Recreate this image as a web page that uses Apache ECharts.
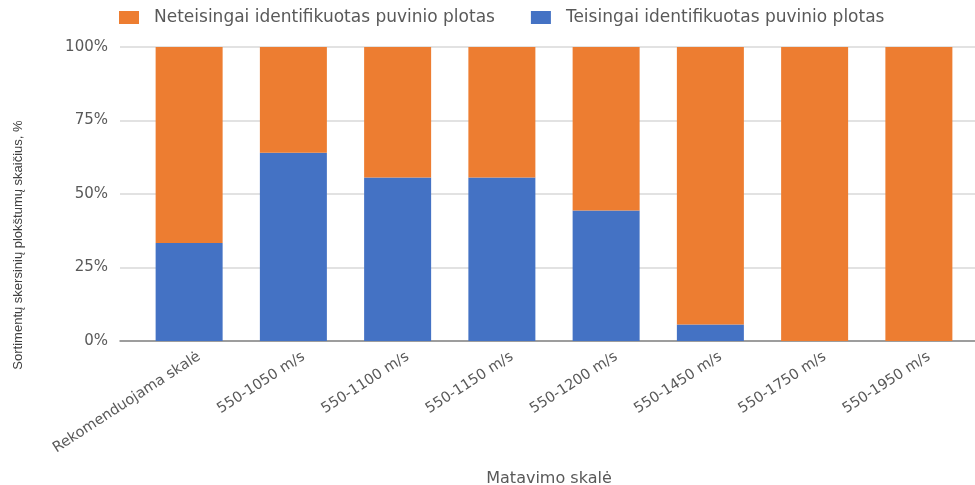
<!DOCTYPE html>
<html>
<head>
<meta charset="utf-8">
<script src="https://cdn.jsdelivr.net/npm/echarts@6/dist/echarts.min.js"></script>
<style>
  html, body { margin: 0; padding: 0; background: #fff; }
  #chart { width: 975px; height: 485px; }
</style>
</head>
<body>
<div id="chart"></div>
<script>
// Measurement scales
const categories = [
  'Rekomenduojama skalė',
  '550-1050 m/s',
  '550-1100 m/s',
  '550-1150 m/s',
  '550-1200 m/s',
  '550-1450 m/s',
  '550-1750 m/s',
  '550-1950 m/s'
];

// Share of cross-section planes, %
const correctShare = [33.3, 64.0, 55.6, 55.6, 44.4, 5.6, 0, 0];
const incorrectShare = [66.7, 36.0, 44.4, 44.4, 55.6, 94.4, 100, 100];

const yTicks = [0, 25, 50, 75, 100];

const nameCorrect = 'Teisingai identifikuotas puvinio plotas';
const nameIncorrect = 'Neteisingai identifikuotas puvinio plotas';

const textColor = '#595959';
const wideFont = "'DejaVu Sans', sans-serif";

const chart = echarts.init(document.getElementById('chart'), null, { renderer: 'canvas' });

chart.setOption({
  animation: false,
  backgroundColor: '#ffffff',
  color: ['#4472C4', '#ED7D31'],
  legend: {
    data: [
      { name: nameIncorrect, itemStyle: { color: '#ED7D31' } },
      { name: nameCorrect, itemStyle: { color: '#4472C4' } }
    ],
    top: 4,
    left: 114,
    icon: 'rect',
    itemWidth: 20,
    itemHeight: 13,
    itemGap: 36,
    textStyle: {
      fontFamily: wideFont,
      fontSize: 17,
      color: textColor,
      padding: [0, 0, 0, 10]
    }
  },
  grid: [
    // frame with value scale and gridlines
    { left: 120, right: 0, top: 47, bottom: 144, outerBoundsMode: 'none' },
    // bars
    { left: 137, right: 4, top: 47, bottom: 144, outerBoundsMode: 'none' }
  ],
  xAxis: [
    {
      gridIndex: 0,
      type: 'value',
      min: 0,
      max: 1,
      axisLabel: { show: false },
      axisTick: { show: false },
      splitLine: { show: false },
      axisLine: { show: true, lineStyle: { color: '#868686', width: 1.5 } }
    },
    {
      gridIndex: 1,
      type: 'category',
      data: categories,
      axisLine: { show: false },
      axisTick: { show: false },
      axisLabel: {
        rotate: 33,
        margin: 21,
        interval: 0,
        fontFamily: wideFont,
        fontSize: 14.5,
        color: textColor,
        padding: [0, -12, 0, 0]
      },
      name: 'Matavimo skalė',
      nameLocation: 'middle',
      nameGap: 130,
      nameTextStyle: {
        fontFamily: wideFont,
        fontSize: 16,
        color: textColor,
        padding: [0, 10, 0, 0]
      }
    }
  ],
  yAxis: [
    {
      gridIndex: 0,
      type: 'value',
      min: 0,
      max: 100,
      interval: 25,
      axisLine: { show: false },
      axisTick: { show: false },
      axisLabel: {
        margin: 12,
        fontFamily: wideFont,
        fontSize: 15,
        color: textColor,
        formatter: function (v) { return yTicks.indexOf(v) >= 0 ? v + '%' : ''; }
      },
      splitLine: { show: true, lineStyle: { color: '#d9d9d9', width: 1.5 } }
    },
    {
      gridIndex: 1,
      type: 'value',
      min: 0,
      max: 100,
      show: false
    }
  ],
  series: [
    {
      name: nameCorrect,
      type: 'bar',
      xAxisIndex: 1,
      yAxisIndex: 1,
      stack: 'share',
      barWidth: 67,
      itemStyle: { color: '#4472C4' },
      data: correctShare
    },
    {
      name: nameIncorrect,
      type: 'bar',
      xAxisIndex: 1,
      yAxisIndex: 1,
      stack: 'share',
      barWidth: 67,
      itemStyle: { color: '#ED7D31' },
      data: incorrectShare
    }
  ],
  graphic: [
    {
      type: 'text',
      x: 18,
      y: 245,
      rotation: Math.PI / 2,
      style: {
        text: 'Sortimentų skersinių plokštumų skaičius, %',
        fontFamily: 'Liberation Sans',
        fontSize: 13,
        fill: '#404040',
        align: 'center',
        verticalAlign: 'middle'
      }
    }
  ]
});
</script>
</body>
</html>
